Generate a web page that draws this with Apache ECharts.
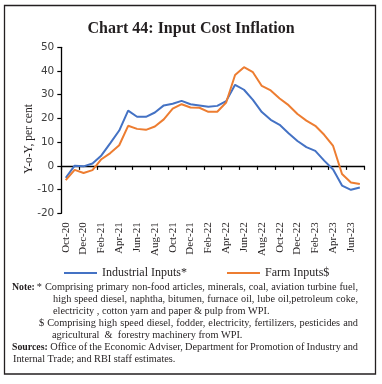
<!DOCTYPE html>
<html>
<head>
<meta charset="utf-8">
<script src="https://cdn.jsdelivr.net/npm/echarts@6/dist/echarts.min.js"></script>
<style>html,body{margin:0;padding:0;background:#fff}#c{width:382px;height:384px}</style>
</head>
<body>
<div id="c"></div>
<script>
const categories = ['Oct-20','Nov-20','Dec-20','Jan-21','Feb-21','Mar-21','Apr-21','May-21','Jun-21','Jul-21','Aug-21','Sep-21','Oct-21','Nov-21','Dec-21','Jan-22','Feb-22','Mar-22','Apr-22','May-22','Jun-22','Jul-22','Aug-22','Sep-22','Oct-22','Nov-22','Dec-22','Jan-23','Feb-23','Mar-23','Apr-23','May-23','Jun-23','Jul-23'];
const industrialInputs = [-5.0, 0.1, -0.2, 1.0, 4.4, 9.6, 14.9, 23.3, 20.7, 20.7, 22.5, 25.5, 26.2, 27.4, 26.0, 25.5, 24.9, 25.3, 27.3, 34.2, 32.1, 27.8, 22.7, 19.4, 17.3, 13.8, 10.5, 7.9, 6.3, 2.2, -1.5, -8.3, -10.1, -9.1];
const farmInputs = [-6.0, -1.7, -3.0, -1.8, 2.8, 5.4, 8.7, 16.9, 15.6, 15.2, 16.6, 19.6, 24.1, 26.0, 24.6, 24.5, 22.8, 22.8, 26.7, 38.3, 41.6, 39.5, 33.7, 31.8, 28.4, 25.6, 21.9, 19.1, 16.9, 13.1, 8.4, -3.4, -7.0, -7.6];
const yTicks = {min: -20, max: 50, interval: 10};
const seriesNames = ['Industrial Inputs*', 'Farm Inputs$'];
const titleText = 'Chart 44: Input Cost Inflation';
const yAxisTitle = 'Y-o-Y, per cent';

const SERIF = '"Liberation Serif", "DejaVu Serif", serif';
const noteFont = 10.3;

const measureCtx = document.createElement('canvas').getContext('2d');
function measure(t, size, weight) {
  measureCtx.font = (weight || 'normal') + ' ' + size + 'px ' + SERIF;
  return measureCtx.measureText(t).width;
}
const graphics = [];
function addText(t, x, y, opts) {
  opts = opts || {};
  graphics.push({type: 'text', x: x, y: y, silent: true, style: {
    text: t, fill: '#231f20', font: (opts.weight || 'normal') + ' ' + (opts.size || noteFont) + 'px ' + SERIF,
    textAlign: 'left', textVerticalAlign: 'middle'}});
}
function justified(line, x0, x1, y) {
  const words = line.split(/\s+/).filter(w => w.length);
  const widths = words.map(w => measure(w, noteFont));
  const sum = widths.reduce((a, b) => a + b, 0);
  const gap = (x1 - x0 - sum) / (words.length - 1);
  let x = x0;
  words.forEach((w, i) => { addText(w, x, y); x += widths[i] + gap; });
}

// frame
graphics.push({type: 'rect', silent: true, shape: {x: 4.5, y: 5.5, width: 371, height: 368.5},
  style: {fill: 'none', stroke: '#231f20', lineWidth: 1.3}});
// y-axis title
graphics.push({type: 'text', x: 29, y: 139, rotation: Math.PI / 2, silent: true,
  style: {text: yAxisTitle, fill: '#231f20', font: 'normal 11.5px ' + SERIF, textAlign: 'center', textVerticalAlign: 'middle'}});
// notes
const noteLabel = 'Note:';
const noteEnd = 12 + measure(noteLabel, 9.8, 'bold');
addText(noteLabel, 12, 287.5, {weight: 'bold', size: 9.8});
justified('* Comprising primary non-food articles, minerals, coal, aviation turbine fuel,', noteEnd + 2, 358, 287.5);
justified('high speed diesel, naphtha, bitumen, furnace oil, lube oil,petroleum coke,', 53, 358, 299.3);
addText('electricity , cotton yarn and paper & pulp from WPI.', 53, 311);
justified('$ Comprising  high speed diesel,  fodder, electricity, fertilizers, pesticides and', 39, 358, 323);
addText('agricultural  &  forestry machinery from WPI.', 52, 335.5);
addText('Sources:', 12, 347.3, {weight: 'bold', size: 9.8});
justified('Office of the Economic Adviser, Department for Promotion of Industry and', 12 + measure('Sources:', 9.8, 'bold') + 2.5, 358, 347.3);
addText('Internal Trade; and RBI staff estimates.', 13, 359);

const chart = echarts.init(document.getElementById('c'), null, {renderer: 'canvas'});
chart.setOption({
  animation: false,
  backgroundColor: '#fff',
  title: {text: titleText, left: 'center', top: 16,
    textStyle: {fontFamily: SERIF, fontWeight: 'bold', fontSize: 16, color: '#231f20'}},
  grid: {left: 61.3, right: 17.7, top: 47.3, bottom: 170.7, containLabel: false, outerBoundsMode: 'none'},
  legend: {data: seriesNames, left: 59, top: 262, icon: 'rect', itemWidth: 33, itemHeight: 2, itemGap: 40,
    textStyle: {fontFamily: SERIF, fontSize: 12, color: '#231f20'}},
  xAxis: [
    {type: 'category', data: categories, boundaryGap: true,
      axisLine: {onZero: true, lineStyle: {color: '#000', width: 1.3}},
      axisTick: {show: true, interval: 1, length: 4, lineStyle: {color: '#000', width: 1.2}},
      axisLabel: {show: false}, splitLine: {show: false}},
    {type: 'category', data: categories, boundaryGap: true, position: 'bottom',
      axisLine: {show: false, onZero: false}, axisTick: {show: false},
      axisLabel: {interval: 1, rotate: 90, margin: 9, fontFamily: SERIF, fontSize: 11, color: '#231f20'},
      splitLine: {show: false}}
  ],
  yAxis: {type: 'value', min: yTicks.min, max: yTicks.max, interval: yTicks.interval,
    axisLine: {show: true, lineStyle: {color: '#000', width: 1.3}},
    axisTick: {show: true, length: 4, lineStyle: {color: '#000', width: 1.2}},
    axisLabel: {margin: 7, fontFamily: '"DejaVu Sans", sans-serif', fontSize: 10.5, color: '#404040'},
    splitLine: {show: false}},
  series: [
    {name: seriesNames[0], type: 'line', xAxisIndex: 0, data: industrialInputs, showSymbol: false, symbol: 'none',
      lineStyle: {color: '#4472C4', width: 2}, itemStyle: {color: '#4472C4'}},
    {name: seriesNames[1], type: 'line', xAxisIndex: 0, data: farmInputs, showSymbol: false, symbol: 'none',
      lineStyle: {color: '#ED7D31', width: 2}, itemStyle: {color: '#ED7D31'}}
  ],
  graphic: graphics
});
</script>
</body>
</html>
